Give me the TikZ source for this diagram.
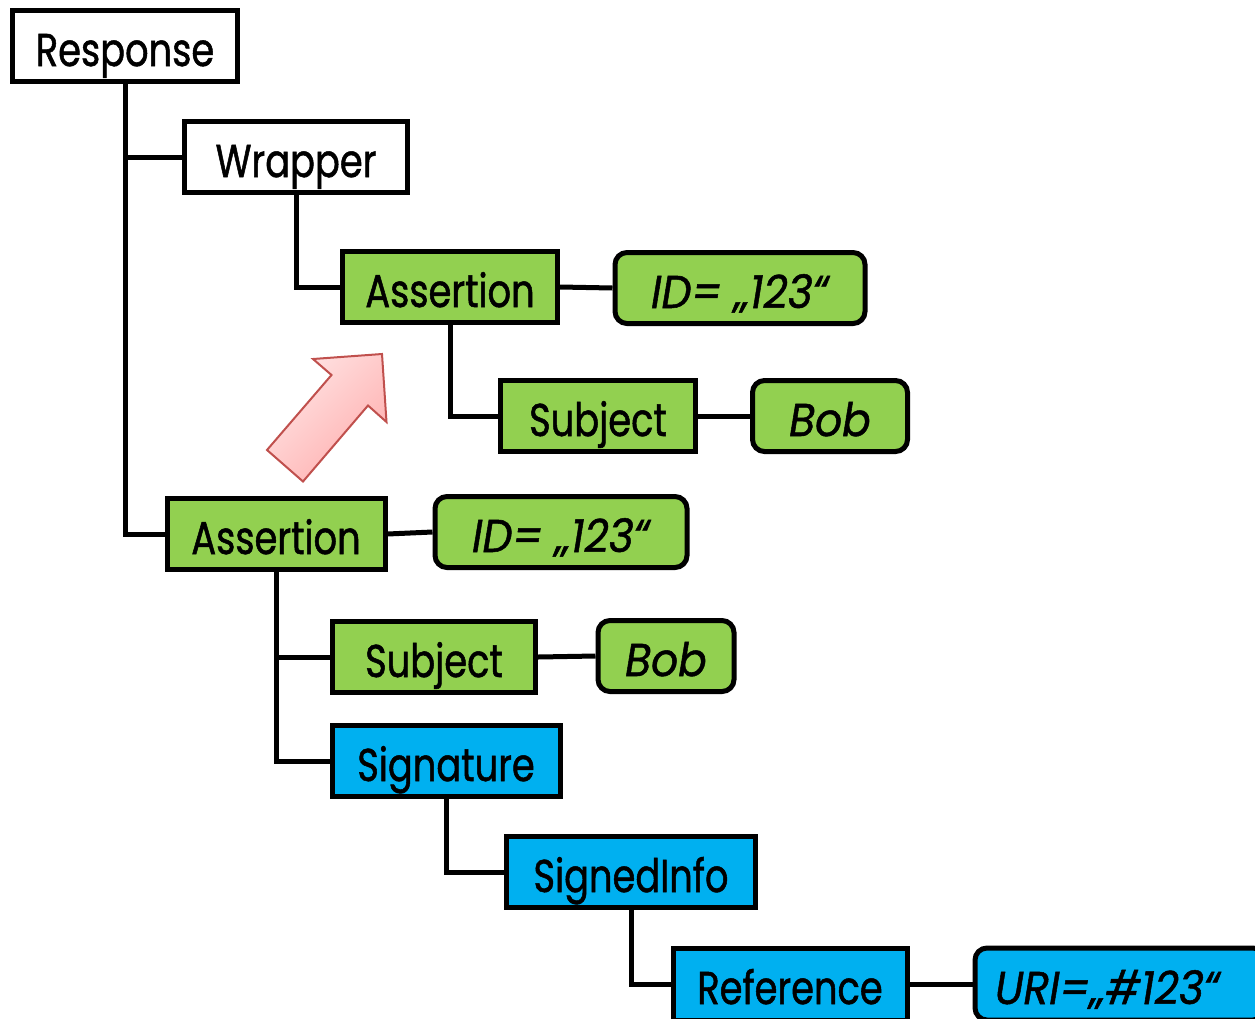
\documentclass[tikz,border=0pt]{standalone}
\usepackage{fontspec}
\setmainfont{Poppins}[FakeStretch=0.80, FakeBold=1.1]
\newfontfamily\attrfont{Poppins}[FakeStretch=0.92, FakeBold=1.1]
\definecolor{leaf}{HTML}{92D050}
\definecolor{sky}{HTML}{00B0F0}
\definecolor{arrowedge}{HTML}{C0504D}
\definecolor{arrowlight}{HTML}{FFE4E4}
\definecolor{arrowdark}{HTML}{FFAFAF}
\begin{document}
\begin{tikzpicture}[x=1pt,y=-1pt,
  elem/.style={draw=black, line width=5pt, inner sep=0pt, minimum height=71pt,
    text height=40pt, text depth=0pt,
    font=\fontsize{46}{50}\selectfont},
  attr/.style={elem, rounded corners=12pt, font=\fontsize{46}{50}\attrfont\itshape},
  plain/.style={elem, fill=white},
  green/.style={fill=leaf},
  blue/.style={fill=sky},
  link/.style={line width=5pt, black}]
\useasboundingbox (0,0) rectangle (1255,1018);
\clip (0,0) rectangle (1255,1018);

% element tree
\node[plain, minimum width=225pt] (resp) at (125,46) {Response};
\node[plain, minimum width=223pt] (wrap) at (296,157) {Wrapper};
\node[elem, green, minimum width=215pt] (assA) at (450,287) {Assertion};
\node[attr, green, minimum width=250pt] (idA) at (740,288) {ID= „123“};
\node[elem, green, minimum width=195pt] (subA) at (598,416) {Subject};
\node[attr, green, minimum width=155pt] (bobA) at (830,416) {Bob};
\node[elem, green, minimum width=218pt] (assB) at (276,534) {Assertion};
\node[attr, green, minimum width=252pt] (idB) at (561,532) {ID= „123“};
\node[elem, green, minimum width=203pt] (subB) at (434,657) {Subject};
\node[attr, green, minimum width=136pt] (bobB) at (666,656) {Bob};
\node[elem, blue, minimum width=228pt] (sig) at (446,761) {Signature};
\node[elem, blue, minimum width=249pt] (sinfo) at (631,872) {SignedInfo};
\node[elem, blue, minimum width=234pt, minimum height=72pt] (ref) at (790,984) {Reference};
\node[attr, blue, minimum width=290pt, minimum height=72pt, text width=250pt, align=left] (uri) at (1120,984) {URI=„\#123“};

% connectors
\draw[link] (resp.south) |- (wrap.west);
\draw[link] (resp.south) |- (assB.west);
\draw[link] (wrap.south) |- (assA.west);
\draw[link] (assA.east) -- (idA.west);
\draw[link] (assA.south) |- (subA.west);
\draw[link] (subA.east) -- (bobA.west);
\draw[link] (assB.east) -- (idB.west);
\draw[link] (assB.south) |- (subB.west);
\draw[link] (assB.south) |- (sig.west);
\draw[link] (subB.east) -- (bobB.west);
\draw[link] (sig.south) |- (sinfo.west);
\draw[link] (sinfo.south) |- (ref.west);
\draw[link] (ref.east) -- (uri.west);

% block arrow
\draw[draw=arrowedge, line width=2pt, line join=miter,
  left color=arrowlight, right color=arrowdark, shading angle=45]
  (267,450) -- (331.5,375) -- (313,359) -- (382,354) -- (386.5,422)
  -- (368,405.5) -- (303,481.5) -- cycle;
\end{tikzpicture}
\end{document}
